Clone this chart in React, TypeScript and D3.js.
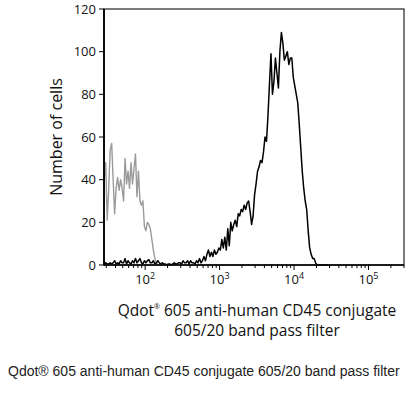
import React, { useMemo } from "react";
import * as d3 from "d3";

// histogram channels: log10 start and width of each bin (decades)
const binStartLog = 1.45;
const binStepLog = 0.02;

// unstained / isotype control (grey)
const controlCounts = [
  40, 48, 21, 35, 54, 57, 40, 24, 36, 41, 35, 40, 36, 30, 50, 38, 44, 36, 48,
  38, 45, 52, 32, 44, 30, 28, 30, 18, 16, 20, 19, 17, 12, 7, 3, 1, 0,
];

// Qdot 605 anti-CD45 stained cells (black)
const stainedCounts = [
  0.5, 1, 0.5, 0.5, 1, 0.5, 1, 2, 0.5, 1, 0.5, 2, 1, 1, 3, 0.5, 2, 1, 0.5, 2, 1,
  3, 1, 2, 3, 1, 0.5, 2, 1, 2, 2.5, 1, 1, 2, 0.5, 1, 2, 1, 0.5, 1, 0.5,
  0.5, 0, 0.5, 0.5, 0, 0.5, 1, 0.5, 0.5, 1,
  1, 0.5, 2, 1, 1, 2, 0.5, 2, 1, 1, 0.5, 2, 1, 3, 1, 2, 4, 2, 5, 7,
  4, 6, 4, 7, 5, 6, 8, 7, 12, 8, 13, 7, 17, 9, 20, 16, 19, 21, 18, 24,
  23, 26, 25, 28, 26, 29, 30, 25, 19, 23, 33, 38, 44, 46, 49, 48, 53, 60, 58,
  70, 85, 99, 80, 86, 97, 90, 83, 100, 109, 104, 96, 98, 100, 94, 97,
  97, 88, 84, 80, 76, 66, 55, 44, 36, 30, 26, 16, 8, 5, 3, 3, 1, 0, 0,
  0, 0, 0, 0, 0, 0,
];

const yTicks = [0, 20, 40, 60, 80, 100, 120];
const xDecades = [2, 3, 4, 5];
const xLabelLine1 = "605 anti-human CD45 conjugate";
const xLabelLine2 = "605/20 band pass filter";
const yLabel = "Number of cells";
const caption = "Qdot® 605 anti-human CD45 conjugate 605/20 band pass filter";

function App() {
  const width = 412;
  const height = 397;
  const MARGIN = { top: 9, right: 8, bottom: 132, left: 104 };
  const boundsWidth = width - MARGIN.left - MARGIN.right;
  const boundsHeight = height - MARGIN.top - MARGIN.bottom;
  const font = "'Open Sans', sans-serif";

  const xScale = useMemo(
    () => d3.scaleLog().domain([28, 300000]).range([0, boundsWidth]),
    [boundsWidth]
  );
  const yScale = useMemo(
    () => d3.scaleLinear().domain([0, 120]).range([boundsHeight, 0]),
    [boundsHeight]
  );

  const line = d3
    .line<number>()
    .x((_, i) => xScale(10 ** (binStartLog + i * binStepLog)))
    .y((d) => yScale(d));

  const minorTicks = xScale
    .ticks()
    .filter((t) => Math.abs(Math.log10(t) - Math.round(Math.log10(t))) > 1e-6);

  return (
    <svg
      width={width}
      height={height}
      style={{ position: "absolute", left: 0, top: 0, background: "#fff" }}
    >
      <g transform={`translate(${MARGIN.left},${MARGIN.top})`}>
        <path
          d={line(controlCounts) ?? ""}
          fill="none"
          stroke="#9a9a9a"
          strokeWidth={1.4}
          strokeLinejoin="round"
        />
        <path
          d={line(stainedCounts) ?? ""}
          fill="none"
          stroke="#000"
          strokeWidth={1.5}
          strokeLinejoin="round"
        />
        {/* frame */}
        <rect
          x={0}
          y={0}
          width={boundsWidth}
          height={boundsHeight}
          fill="none"
          stroke="#222"
          strokeWidth={1.2}
        />
        <line x1={0} x2={0} y1={0} y2={boundsHeight} stroke="#000" strokeWidth={1.8} />
        <line
          x1={0}
          x2={boundsWidth}
          y1={boundsHeight}
          y2={boundsHeight}
          stroke="#000"
          strokeWidth={1.6}
        />

        {yTicks.map((t) => (
          <g key={t} transform={`translate(0,${yScale(t)})`}>
            <line x1={-5} x2={0} stroke="#000" strokeWidth={1} />
            <text
              x={-8}
              dy="0.35em"
              textAnchor="end"
              fontSize={13}
              fontFamily={font}
              fill="#111"
            >
              {t}
            </text>
          </g>
        ))}

        {minorTicks.map((t, i) => (
          <line
            key={i}
            x1={xScale(t)}
            x2={xScale(t)}
            y1={boundsHeight}
            y2={boundsHeight + 3}
            stroke="#000"
            strokeWidth={1}
          />
        ))}
        {xDecades.map((p) => (
          <g key={p} transform={`translate(${xScale(10 ** p)},${boundsHeight})`}>
            <line y1={0} y2={5} stroke="#000" strokeWidth={1} />
            <text y={19} textAnchor="middle" fontSize={13} fontFamily={font} fill="#111">
              10
              <tspan dy={-5} fontSize={9}>
                {p}
              </tspan>
            </text>
          </g>
        ))}

        <text
          transform={`translate(${-42},${boundsHeight / 2}) rotate(-90)`}
          textAnchor="middle"
          fontSize={16}
          fontFamily={font}
          fill="#111"
        >
          {yLabel}
        </text>

        <text
          x={153}
          y={307}
          textAnchor="middle"
          fontSize={15.5}
          fontFamily={font}
          fill="#111"
        >
          Qdot
          <tspan dy={-7} fontSize={7}>
            ®
          </tspan>
          <tspan dy={7}> {xLabelLine1}</tspan>
        </text>
        <text
          x={153}
          y={327}
          textAnchor="middle"
          fontSize={15.5}
          fontFamily={font}
          fill="#111"
        >
          {xLabelLine2}
        </text>
      </g>
      <text
        x={8}
        y={376}
        fontSize={14}
        fontFamily="'Liberation Sans', Arial, sans-serif"
        fill="#222"
      >
        {caption}
      </text>
    </svg>
  );
}

export default App;
